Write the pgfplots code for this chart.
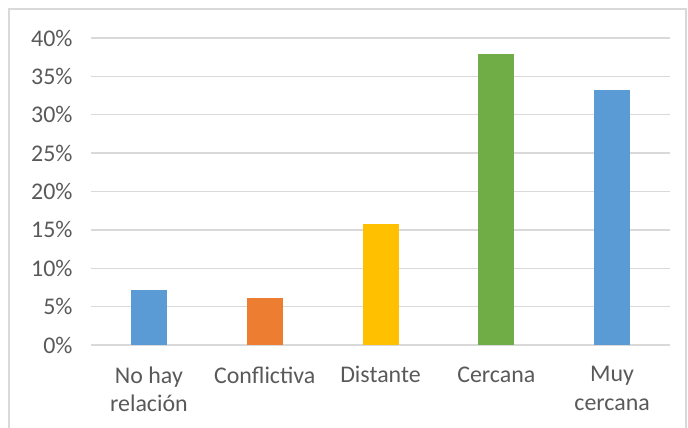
\documentclass[border=0pt]{standalone}
\usepackage{pgfplots}
\pgfplotsset{compat=1.18}
\usepackage{fontspec}
\setmainfont{Carlito}
\definecolor{cblue}{HTML}{5B9BD5}
\definecolor{corange}{HTML}{ED7D31}
\definecolor{cgold}{HTML}{FFC000}
\definecolor{cgreen}{HTML}{70AD47}
\definecolor{tickgray}{HTML}{595959}
\definecolor{gridgray}{HTML}{D9D9D9}
\begin{document}
\begin{tikzpicture}[x=1bp,y=1bp]
\useasboundingbox (0,0) rectangle (688,427);
\draw[color=gridgray, line width=1.5bp] (9,-5) rectangle (686,418);
\begin{axis}[
    at={(91bp,82bp)}, anchor=south west,
    scale only axis,
    width=579bp, height=307bp,
    xmin=-0.5, xmax=4.5,
    ymin=0, ymax=40,
    axis line style={draw=none},
    major tick length=0pt,
    ymajorgrids,
    grid style={color=gridgray, line width=1.3bp},
    ytick={0,5,...,40},
    yticklabels={0\%,5\%,10\%,15\%,20\%,25\%,30\%,35\%,40\%},
    xtick={0,1,2,3,4},
    xticklabels={No hay\\relación,Conflictiva,Distante,Cercana,Muy\\cercana},
    ticklabel style={font=\fontsize{24}{28.5}\selectfont, text=tickgray},
    xticklabel style={align=center, anchor=north, yshift=-18bp},
    yticklabel style={xshift=-15bp},
    ybar, bar width=36bp, bar shift=0pt,
    clip=false,
]
\addplot[fill=cblue, draw=none] coordinates {(0,7.2)};
\addplot[fill=corange, draw=none] coordinates {(1,6.1)};
\addplot[fill=cgold, draw=none] coordinates {(2,15.8)};
\addplot[fill=cgreen, draw=none] coordinates {(3,37.9)};
\addplot[fill=cblue, draw=none] coordinates {(4,33.2)};
\end{axis}
\end{tikzpicture}
\end{document}
